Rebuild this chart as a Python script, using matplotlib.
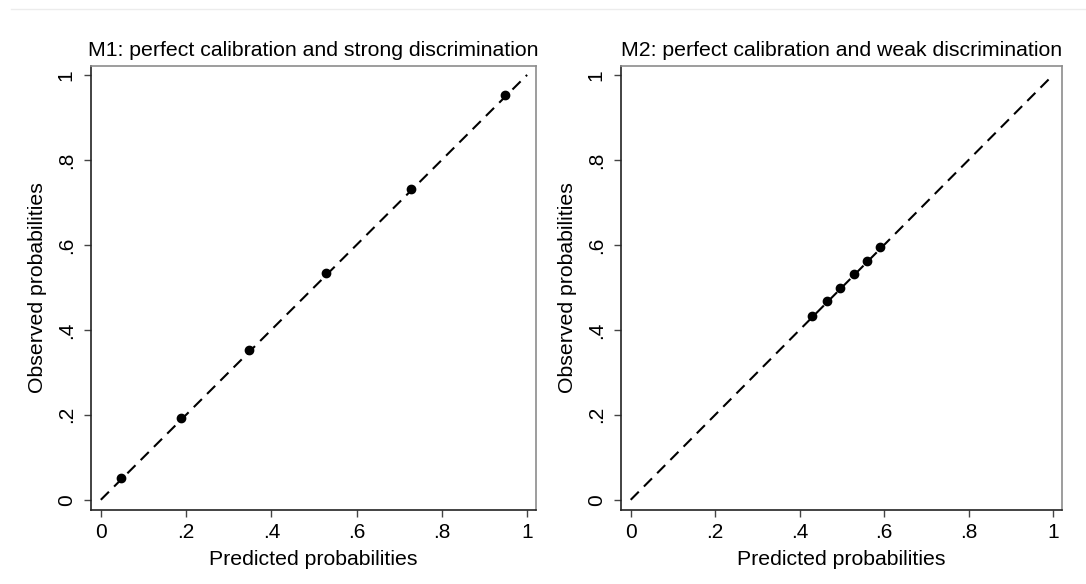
import numpy as np
import matplotlib
matplotlib.use("Agg")
from matplotlib import pyplot as plt
from matplotlib.lines import Line2D

plt.rcParams["font.family"] = ["Liberation Sans", "DejaVu Sans"]

# decile-group calibration points
m1_pred = [0.047, 0.188, 0.347, 0.528, 0.728, 0.948]
m1_obs = [0.052, 0.193, 0.353, 0.534, 0.732, 0.953]
m2_pred = [0.429, 0.464, 0.495, 0.528, 0.559, 0.590]
m2_obs = [0.433, 0.468, 0.499, 0.532, 0.562, 0.595]

titles = [
    "M1: perfect calibration and strong discrimination",
    "M2: perfect calibration and weak discrimination",
]
tick_vals = [0, 0.2, 0.4, 0.6, 0.8, 1]
tick_labels = ["0", ".2", ".4", ".6", ".8", "1"]

fig = plt.figure(figsize=(10.86, 5.84), dpi=100)
ax_1 = fig.add_axes([0.0838, 0.1267, 0.4098, 0.7603])
ax_2 = fig.add_axes([0.5718, 0.1267, 0.4061, 0.7603])

# faint rule along the top
fig.add_artist(Line2D([0.01, 1.0], [0.985, 0.985], color="#ececec", lw=1,
                      transform=fig.transFigure))

for ax, x, y, title in zip([ax_1, ax_2], [m1_pred, m2_pred],
                           [m1_obs, m2_obs], titles):
    ax.plot([0, 1], [0, 1], color="black", lw=1.5, ls=(0, (5.5, 3.5)))
    ax.plot(x, y, "o", color="black", ms=6)
    ax.set_xlim(-0.023, 1.021)
    ax.set_ylim(-0.024, 1.021)
    ax.set_xticks(tick_vals)
    ax.set_xticklabels(tick_labels)
    ax.set_yticks(tick_vals)
    ax.set_yticklabels(tick_labels, rotation=90, va="center")
    ax.tick_params(direction="out", length=5, width=1, color="#444444",
                   labelsize=15, pad=4)
    ax.tick_params(axis="y", pad=6)
    ax.set_xlabel("Predicted probabilities", fontsize=15.3, labelpad=6)
    ax.set_ylabel("Observed probabilities", fontsize=15.3, labelpad=7)
    ax.set_title(title, fontsize=15.3, pad=7)
    for side in ["left", "bottom"]:
        ax.spines[side].set_color("#222222")
        ax.spines[side].set_linewidth(1.2)
    for side in ["top", "right"]:
        ax.spines[side].set_color("#8c8c8c")
        ax.spines[side].set_linewidth(1.2)

fig.savefig("out.png", dpi=100)
